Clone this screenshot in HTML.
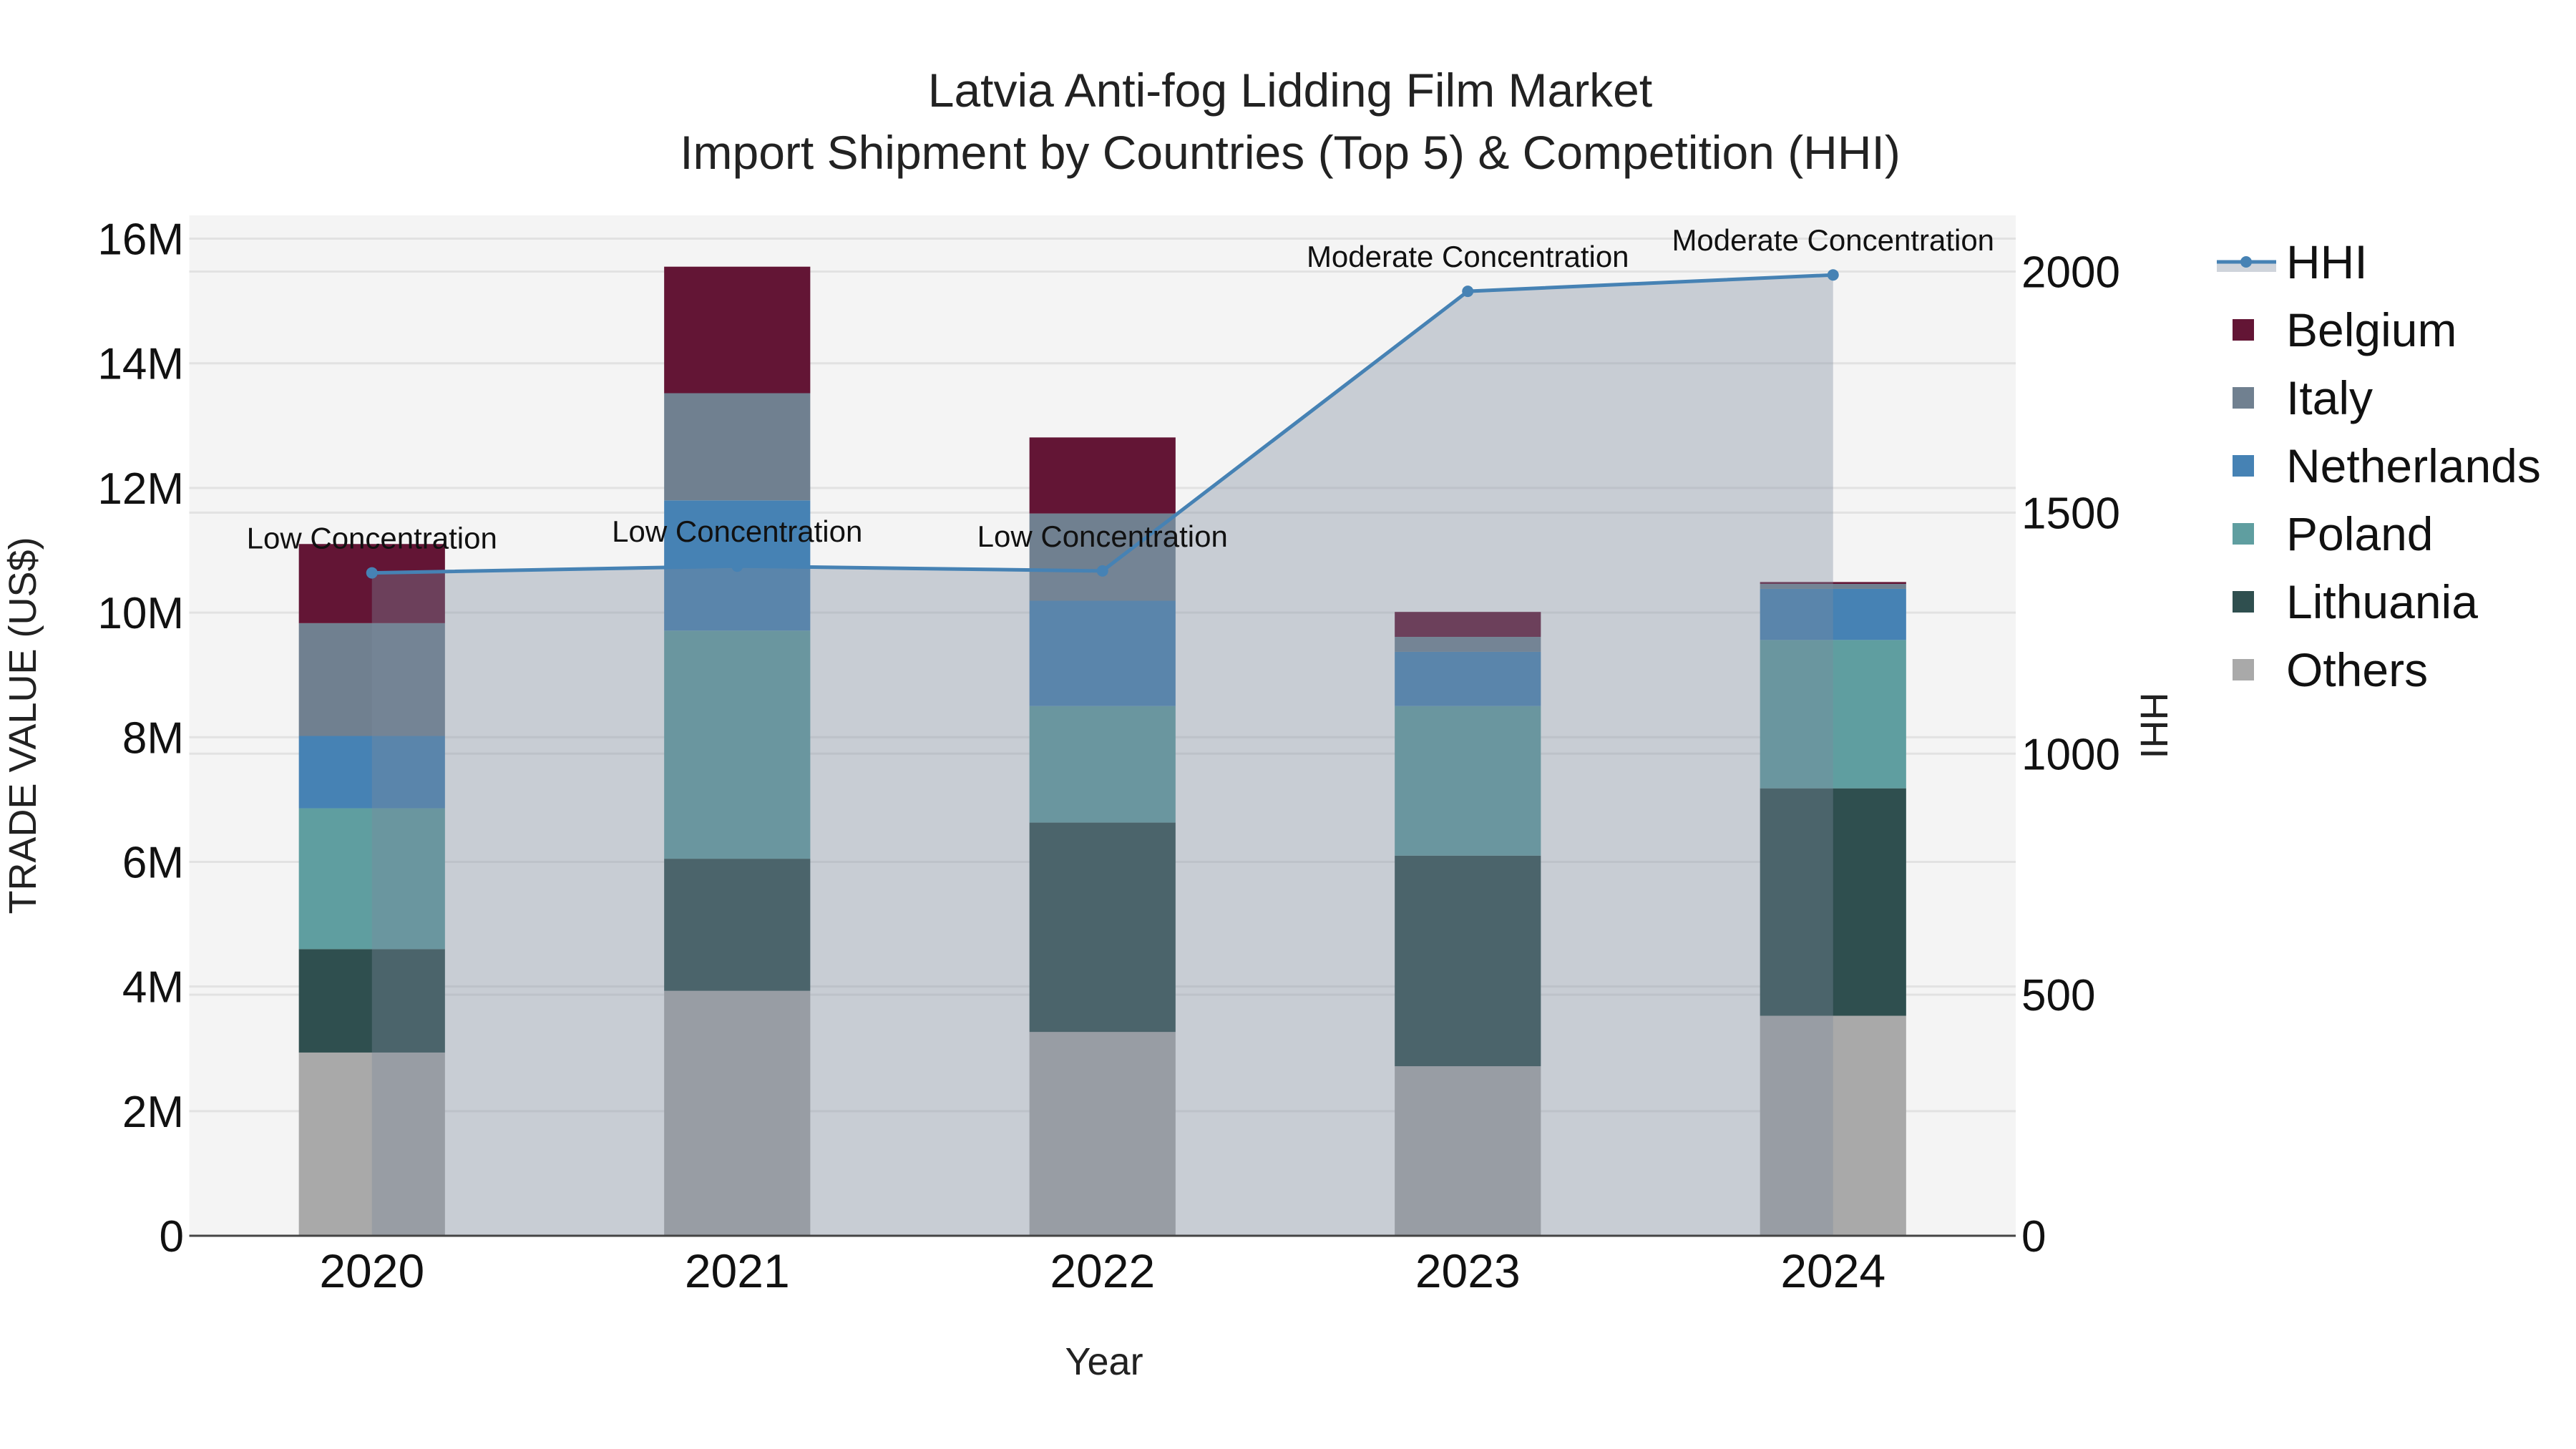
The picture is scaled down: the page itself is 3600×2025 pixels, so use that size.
<!DOCTYPE html>
<html><head><meta charset="utf-8"><style>
html,body{margin:0;padding:0;background:#fff;}
svg{display:block;font-family:"Liberation Sans",Arial,sans-serif;}
</style></head><body>
<svg id="chart" width="3600" height="2025" viewBox="0 0 3600 2025" xmlns="http://www.w3.org/2000/svg">
<text x="1803" y="149" text-anchor="middle" font-size="66" fill="#222">Latvia Anti-fog Lidding Film Market</text>
<text x="1803" y="236" text-anchor="middle" font-size="66" fill="#222">Import Shipment by Countries (Top 5) &amp; Competition (HHI)</text>
<rect x="264.5" y="301" width="2552.5" height="1426" fill="#f4f4f4"/>
<g id="grid"></g><g id="bars"></g><g id="hhi"></g><g id="axes"></g><g id="legend"></g>
<text transform="translate(50,1014) rotate(-90)" text-anchor="middle" font-size="54" fill="#222">TRADE VALUE (US$)</text>
<text transform="translate(2992,1014) rotate(90)" text-anchor="middle" font-size="54" fill="#222">HHI</text>
<text x="1543" y="1921" text-anchor="middle" font-size="54" fill="#222">Year</text>
</svg>
<script>
const years = ["2020","2021","2022","2023","2024"];
const others = [2.94, 3.93, 3.27, 2.72, 3.53];
const lithuania = [1.66, 2.12, 3.36, 3.38, 3.65];
const poland = [2.26, 3.66, 1.87, 2.40, 2.38];
const netherlands = [1.16, 2.09, 1.69, 0.87, 0.82];
const italy = [1.81, 1.72, 1.40, 0.24, 0.08];
const belgium = [1.27, 2.03, 1.22, 0.40, 0.03];
const hhiValues = [1375, 1389, 1379, 1959, 1993];
const hhiLabels = ["Low Concentration","Low Concentration","Low Concentration","Moderate Concentration","Moderate Concentration"];
const yTicks = [0,2,4,6,8,10,12,14,16];
const yTickLabels = ["0","2M","4M","6M","8M","10M","12M","14M","16M"];
const y2Ticks = [0,500,1000,1500,2000];

const NS="http://www.w3.org/2000/svg";
const L=264.5,R=2817,T=301,B=1727;
const bw=(R-L)/years.length;
const xC=i=>L+bw*(i+0.5);
const yM=v=>B-v*(B-333.5)/16;
const yH=v=>B-v*(B-379.5)/2000;
function mk(tag,attrs,parent){const e=document.createElementNS(NS,tag);for(const k in attrs)e.setAttribute(k,attrs[k]);parent.appendChild(e);return e;}
const grid=document.getElementById('grid'),bars=document.getElementById('bars'),hhi=document.getElementById('hhi'),axes=document.getElementById('axes'),legend=document.getElementById('legend');

yTicks.forEach((t,i)=>{
  if(t>0){const g=mk('line',{x1:L,x2:R,y1:yM(t),y2:yM(t),stroke:'#e2e2e2','stroke-width':3},grid);
  
  }
  const tx=mk('text',{x:257,y:yM(t)+22,'text-anchor':'end','font-size':62,fill:'#111'},axes);
  tx.textContent=yTickLabels[i];
  
  
});
y2Ticks.forEach(t=>{
  if(t>0){const g=mk('line',{x1:L,x2:R,y1:yH(t),y2:yH(t),stroke:'#e2e2e2','stroke-width':3},grid);
  
  }
  const tx=mk('text',{x:2825,y:yH(t)+22,'text-anchor':'start','font-size':62,fill:'#111'},axes);
  tx.textContent=String(t);
  
  
});

const series=[["others",others,"#a9a9a9"],["lithuania",lithuania,"#2f4f4f"],["poland",poland,"#5f9ea0"],["netherlands",netherlands,"#4682b4"],["italy",italy,"#708090"],["belgium",belgium,"#631535"]];
years.forEach((yr,i)=>{
  let base=0;
  series.forEach(s=>{
    const v=s[1][i];
    const w=0.4*bw;
    const r=mk('rect',{x:xC(i)-w/2,y:yM(base+v),width:w,height:yM(base)-yM(base+v),fill:s[2]},bars);
    
    
    base+=v;
  });
  const tx=mk('text',{x:xC(i),y:1799,'text-anchor':'middle','font-size':66,fill:'#111'},axes);
  tx.textContent=yr;
  
  
});

let pts=hhiValues.map((v,i)=>xC(i)+','+yH(v)).join(' ');
const area=mk('polygon',{points:xC(0)+','+B+' '+pts+' '+xC(hhiValues.length-1)+','+B,fill:'rgb(126,137,158)','fill-opacity':0.37},hhi);


const line=mk('polyline',{points:pts,fill:'none',stroke:'#4682b4','stroke-width':5},hhi);


hhiValues.forEach((v,i)=>{
  const c=mk('circle',{cx:xC(i),cy:yH(v),r:8,fill:'#4682b4'},hhi);
  
  
  const a=mk('text',{x:xC(i),y:yH(v)-34,'text-anchor':'middle','font-size':42,fill:'#111'},hhi);
  a.textContent=hhiLabels[i];
  
  
});
const zl=mk('line',{x1:L,x2:R,y1:B,y2:B,stroke:'#444','stroke-width':3},axes);



const lg=[["HHI",null],["Belgium","#631535"],["Italy","#708090"],["Netherlands","#4682b4"],["Poland","#5f9ea0"],["Lithuania","#2f4f4f"],["Others","#a9a9a9"]];
lg.forEach((e,k)=>{
  const cy=366+k*95;
  const g=mk('g',{},legend);
  
  
  if(e[1]===null){
    mk('rect',{x:3098,y:cy,width:83,height:14,fill:'rgb(126,137,158)','fill-opacity':0.37},g);
    mk('line',{x1:3098,x2:3181,y1:cy,y2:cy,stroke:'#4682b4','stroke-width':5},g);
    mk('circle',{cx:3139,cy:cy,r:8,fill:'#4682b4'},g);
  } else {
    mk('rect',{x:3120,y:cy-15,width:30,height:30,fill:e[1]},g);
  }
  const t=mk('text',{x:3195,y:cy+23,'font-size':66,fill:'#111'},g);
  t.textContent=e[0];
});
</script>
</body></html>
